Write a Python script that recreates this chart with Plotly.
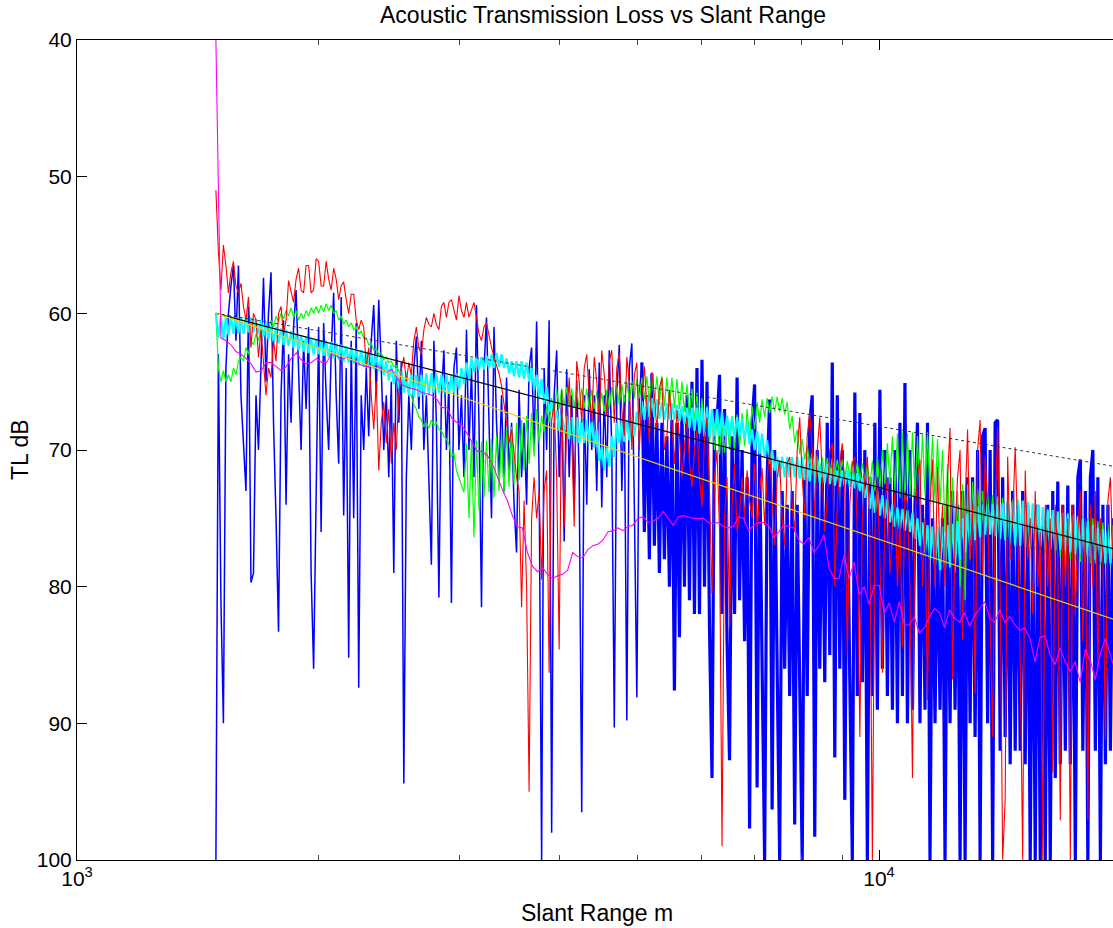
import numpy as np
import plotly.graph_objects as go

# ---------------- data (TL in dB) ----------------
range_start_m = 1490.0
range_end_m = 20000.0

blue_tl = [
    100, 63, 81, 90, 64, 60, 58, 56.5, 62, 56.5,
    66, 70, 73, 59.5, 79.7, 79, 66, 70, 63, 57.4,
    65, 60, 57, 68, 75, 83.3, 66, 60.5, 74, 63,
    68, 61, 58.3, 64, 70, 62, 67, 61, 79, 86,
    73.3, 61, 76, 60.7, 66, 70, 63, 58.5, 66, 71,
    58.8, 74.8, 64, 85.2, 62, 75, 60.7, 87.4, 66, 70,
    64, 69, 62, 59.4, 66, 59, 64, 70, 66, 72,
    65, 79, 62, 68, 63.6, 94.4, 72, 66, 70, 64,
    61.7, 67, 62, 70, 66, 72, 78.4, 62, 68, 80.8,
    66, 62.7, 70, 65, 81.2, 64, 62.5, 70, 66, 72,
    61.2, 70, 64, 72, 59.4, 68, 81.5, 64, 60.3, 68,
    75, 61, 68, 72, 66, 73, 64.7, 72, 68, 74,
    77.5, 65.6, 72, 68, 74, 64, 62.5, 70, 60.6, 72,
    100, 64, 70, 60.5, 98, 66, 62.7, 72, 66, 76.7,
    64.1, 72, 66, 74, 64.9, 72, 96.5, 66, 74, 64.1,
    70, 66, 73, 63.6, 74.2, 66, 72, 62.7, 70, 90.3,
    66, 62.3, 73, 66, 89.8, 64, 62.2, 74, 88.1, 66,
    63.6, 76, 66, 78, 64.4, 77, 68, 79, 68, 78,
    69, 80, 67.8, 87.6, 68, 83.7, 67, 80, 66, 81,
    65, 82, 64, 82, 63.4, 80, 65, 83, 94, 67,
    68, 64.5, 82, 67, 84, 92.7, 69, 82, 64.7, 81,
    70, 84, 72, 97.7, 68, 65.2, 94.7, 70, 86, 100,
    72, 66.3, 96.3, 70, 86, 100, 73, 86, 74, 88,
    73, 97.4, 74, 86, 100, 72, 88, 68, 66, 98.3,
    70, 86, 72, 87, 68, 85, 63.6, 92.5, 66, 86,
    70, 95.6, 72, 87, 100, 65.8, 88, 67.3, 87, 70,
    100, 72, 88, 68, 89, 65.6, 86, 70, 88, 72,
    89, 70, 90, 68, 88, 65.1, 90, 70, 89, 74,
    68, 90, 74, 89, 68, 100, 75, 90, 76, 89,
    75, 100, 74, 90, 73, 89, 74, 100, 73, 100,
    72, 90, 72, 91, 70, 100, 69, 68.4, 90, 70,
    100, 68, 67.8, 92, 72, 91, 74, 93, 73, 92,
    74, 92, 73, 93, 74, 100, 75, 100, 74, 100,
    75, 100, 74, 100, 73, 94, 72.3, 93, 74, 92,
    72.6, 93, 74, 100, 72, 70.7, 92, 73, 100, 72,
    70, 92, 72, 100, 74, 93, 74, 92, 75, 91, 74, 90,
]

red_tl = [
    51, 55.5, 58.3, 55, 56.5, 58.5, 57, 56.2, 58, 58.5,
    57.8, 59.5, 60.5, 58.8, 62.5, 60, 60.5, 63.2, 61.2, 63.5,
    66, 64, 64.7, 62, 63.5, 60, 59.5, 61.5, 60.5, 57.6,
    58.5, 59.2, 57.5, 56.7, 58.3, 58.5, 56.5, 56.5, 58.5, 58.3,
    56, 56.2, 58, 58, 56.2, 57.5, 58.3, 56.7, 57.5, 59,
    58, 57.7, 59, 60, 58.6, 58.6, 60.5, 61.2, 60.5, 61,
    64, 62.5, 66, 68.5, 65, 71.5, 68, 66.5, 69.5, 67,
    71, 68, 70, 66, 64.1, 63.2, 65, 63.6, 64.5, 62,
    61, 62.5, 63, 61.2, 60.3, 60.8, 61, 60, 60.8, 61.2,
    59.5, 59.2, 60.3, 59.2, 59, 59.8, 60.5, 58.7, 59.8, 60.3,
    59.2, 60.3, 59.8, 59.2, 60.3, 61.5, 62, 61, 60.7, 61.7,
    62.5, 63.2, 63.8, 64.4, 65.3, 66.5, 68, 69.5, 68.5, 70.2,
    72, 73, 81.5, 73.7, 80, 95, 75, 72, 75, 73,
    79.5, 73, 71.5, 86.3, 67.8, 66.6, 72, 84.6, 65.6, 75.6,
    68, 64.7, 69, 75.6, 63.5, 65, 68, 64, 63, 66,
    68, 63.2, 65, 68, 62.7, 64.5, 67.5, 63.5, 62.7, 68,
    64, 62.9, 67, 69, 63.2, 65, 70, 64.5, 63.6, 70,
    66, 63.9, 67, 69.5, 64.3, 66, 68.5, 65.5, 64.7, 70,
    69, 65.6, 68, 71, 67.1, 69, 72, 70, 67.6, 71,
    72.7, 70, 68.5, 72, 74.2, 69, 67.6, 73, 80.5, 72,
    70, 76, 99, 75, 72, 83, 74, 71, 76, 74.6,
    72, 75, 71.5, 73.7, 75, 71, 75.9, 73, 71.3, 75.5,
    72, 70, 74, 77, 72, 70.8, 75, 77, 71, 70.5,
    74, 76, 70, 67.6, 72, 75, 69, 67.2, 70, 75,
    70, 67.6, 72, 76, 73.5, 70, 69.5, 80, 74, 71,
    69.5, 73, 85, 74, 71, 70.5, 76, 91, 75, 72,
    70.5, 76, 100, 76, 72, 78, 86.3, 74, 72, 79,
    76, 73, 80, 75, 84.4, 73, 74, 80, 94, 75,
    72, 70.7, 80, 75, 88.3, 74, 70.7, 80, 71.2, 78,
    74, 80, 72, 68.4, 86.8, 76, 72, 70, 83.9, 74,
    68.5, 78, 74, 87.8, 70, 67.8, 79, 70.5, 74, 82,
    91, 74, 68.3, 80, 100, 95.6, 70.5, 78, 75, 69.8,
    76, 85.4, 100, 71.5, 78, 75, 82, 73, 80, 76,
    100, 74, 80, 75, 93.6, 74, 78, 97.1, 74, 80,
    75, 100, 74, 82, 76, 73, 84, 75, 97.1, 74,
    80, 73, 86, 75, 78, 91.2, 73.7, 72, 78, 76, 85, 80,
]

green_tl = [
    60, 64, 65, 64.2, 65, 64.5, 65, 64, 64.5, 63.5,
    63.2, 63.5, 62.5, 63, 62, 62.3, 61.5, 62, 61.2, 61.5,
    60.8, 61.2, 60.5, 61, 60.2, 60.6, 60, 60.4, 59.8, 60.2,
    59.6, 60.3, 59.8, 60.5, 60, 60.4, 59.8, 60.2, 59.6, 60,
    59.5, 60, 59.4, 59.9, 59.3, 59.8, 59.4, 60, 59.8, 60.5,
    60.2, 60.8, 60.5, 61, 60.7, 61.2, 61, 61.5, 61.3, 61.8,
    61.8, 62.3, 62.2, 62.7, 62.6, 63, 62.9, 63.4, 63.2, 63.6,
    63.5, 63.9, 63.8, 64.2, 64.5, 65, 65.2, 65.8, 66, 66.7,
    67, 67.6, 67.8, 68.3, 68, 68.4, 67.8, 68.2, 68, 68.5,
    68.6, 69, 69.2, 69.6, 70.5, 70.2, 71.5, 72, 72.6, 73.1,
    69.5, 75, 69.3, 76.4, 69.3, 74.4, 69.4, 73.5, 69.3, 73.1,
    69.2, 73.5, 69, 73, 68.8, 73.2, 68.5, 72.7, 68.3, 72.5,
    68, 72.2, 67.8, 71.5, 67.5, 71, 67.3, 70.5, 67, 69.5,
    67.5, 68.7, 66.8, 68, 66.2, 67.3, 65.6, 67, 65.5, 66.8,
    65.4, 66.8, 65.5, 66.9, 65.6, 67, 65.5, 66.9, 65.5, 67,
    65.6, 67, 65.7, 67.2, 65.8, 67.2, 65.6, 67, 65.4, 66.8,
    65.3, 66.7, 65.2, 66.5, 65, 66.4, 65, 66.2, 64.8, 66.2,
    64.7, 66.3, 64.6, 66.5, 64.5, 66.6, 64.6, 66.7, 64.6, 66.8,
    64.7, 66.8, 64.7, 66.9, 64.8, 67, 65, 67.2, 65.2, 67.5,
    65.5, 68, 65.8, 68.5, 66.2, 69, 66.8, 69.5, 67.3, 70,
    67.6, 70.3, 67.8, 70.2, 67.6, 70, 67.5, 70, 67.4, 69.8,
    67.3, 69.7, 67, 69.3, 66.8, 68.5, 66.5, 68, 66.3, 67.6,
    66.2, 67.3, 66.1, 67.2, 66.1, 67.2, 66.2, 67.4, 66.5, 68.5,
    67.5, 69.5, 68.5, 70.3, 69.2, 70.7, 69.7, 71, 70.2, 71.5,
    70.4, 71.6, 70.5, 71.7, 70.6, 71.8, 70.6, 71.8, 70.7, 71.9,
    70.7, 72, 70.8, 72, 70.8, 72.1, 70.9, 72.2, 71, 72.3,
    71, 72.6, 70.8, 73, 70.5, 72.8, 70, 72.5, 69.5, 72.5,
    69, 73, 68.8, 73.5, 68.7, 73.7, 68.8, 73.5, 68.7, 73.4,
    69, 73.5, 68.8, 73.3, 68.7, 73.2, 69, 73.7, 69.2, 74,
    70, 76, 71, 78, 72, 79, 73, 80, 72.5, 81,
    72.5, 78, 72.3, 76, 72.8, 75.5, 73, 75.5, 73.2, 75.8,
    73.3, 76, 73.4, 76.2, 73.5, 76.4, 73.5, 76.5, 73.6, 76.7,
    73.6, 76.8, 73.8, 77, 73.9, 77.2, 74, 77.3, 74, 77.4,
    74.2, 77.6, 74.3, 77.6, 74.4, 77.8, 74.5, 77.9, 74.6, 78,
    74.6, 78, 74.7, 78.1, 74.8, 78.2, 74.9, 78.2, 75, 78.3,
    75, 78.3, 75.2, 78.4, 75.3, 78.4, 75.4, 78.5, 75.5, 78.6, 75.6, 78.6,
]

cyan_tl = [
    60, 61.8, 60.2, 61.9, 60.3, 61.6, 60.2, 61.5, 60.3, 61.5,
    60.3, 61.5, 60.2, 61.4, 60.3, 61.4, 60.4, 61.5, 60.5, 61.7,
    60.7, 61.9, 60.9, 62.1, 61, 62.2, 61.1, 62.3, 61.2, 62.4,
    61.3, 62.5, 61.5, 62.7, 61.6, 62.8, 61.7, 62.9, 61.8, 63,
    61.9, 63, 62, 63.1, 62, 63.2, 62.1, 63.3, 62.2, 63.4,
    62.3, 63.5, 62.4, 63.6, 62.5, 63.7, 62.6, 63.8, 62.7, 63.9,
    62.8, 64, 62.9, 64.1, 63, 64.2, 63.2, 64.5, 63.5, 64.9,
    63.8, 65.2, 64, 65.5, 64.2, 65.8, 64.3, 66, 64.4, 66.1,
    64.5, 66.1, 64.5, 66, 64.4, 65.9, 64.4, 65.8, 64.4, 65.8,
    64.5, 65.8, 64.5, 65.9, 64.5, 65.8, 64.4, 65.6, 64, 65.2,
    63.6, 64.8, 63.3, 64.3, 63.2, 64.1, 63.2, 64.1, 63.1, 64,
    63, 64, 62.9, 63.9, 63, 64, 63.3, 64.4, 63.5, 64.6,
    63.5, 64.7, 63.5, 64.8, 63.6, 65, 64, 65.6, 64.5, 66.2,
    64.8, 66.6, 65.4, 67.2, 66.4, 68, 67.1, 68.5, 67.3, 68.8,
    67.5, 69.2, 67.6, 69.4, 67.6, 69.5, 67.7, 69.5, 67.8, 69.5,
    67.9, 69.8, 68.5, 70.8, 69.8, 71.5, 69.8, 71.2, 69, 70.5,
    68, 69.5, 67.8, 69.4, 67.8, 69.3, 67.6, 69, 67.2, 68.6,
    66.4, 67.8, 66.1, 67.6, 66.2, 67.6, 66.3, 67.7, 66.5, 67.8,
    66.6, 67.8, 66.6, 67.8, 66.7, 67.9, 66.8, 68.1, 66.9, 68.4,
    66.9, 68.6, 66.9, 68.8, 66.9, 69, 66.9, 69, 67, 69,
    67, 69, 67.2, 69, 67.5, 69, 67.6, 69, 67.6, 69,
    67.7, 69.2, 68, 69.6, 68.5, 70, 68.6, 70.3, 68.8, 70.5,
    69.3, 71, 70, 71.5, 70.5, 72, 70.5, 72, 70.5, 72,
    70.5, 72, 70.5, 72.1, 70.5, 72.2, 70.5, 72.3, 70.6, 72.4,
    70.7, 72.4, 70.8, 72.4, 71, 72.5, 71.3, 72.6, 71.5, 72.7,
    71.5, 72.7, 71.5, 72.7, 71.6, 72.8, 71.7, 73, 72, 73.5,
    72.5, 74.3, 72.8, 74.6, 73, 74.8, 73.3, 75, 73.6, 75.3,
    74, 75.6, 74.2, 75.8, 74.3, 75.9, 74.4, 76, 74.6, 76.5,
    75, 77, 75.3, 77.5, 75.5, 78, 75.6, 78.5, 75.6, 78.8,
    75.6, 78.8, 75.5, 78.6, 75.4, 78.4, 75.2, 78, 75, 77.5,
    74.6, 77, 74.3, 76.6, 74.1, 76.4, 74, 76.2, 74, 76.2,
    74, 76.3, 74, 76.5, 73.9, 76.6, 73.8, 76.8, 73.8, 77,
    73.7, 77, 73.7, 77.1, 73.8, 77.1, 73.9, 77.1, 74, 77.1,
    74.2, 77.2, 74.4, 77.3, 74.4, 77.3, 74.5, 77.3, 74.6, 77.4,
    74.7, 77.5, 74.8, 77.6, 74.9, 77.6, 75, 77.7, 75.2, 77.8,
    75.5, 78, 75.7, 78.2, 75.8, 78.3, 75.9, 78.3, 76, 78.4, 76.1, 78.5,
]

magenta_tl = [
    40, 61.8, 62.0, 62.3, 62.8, 63.0, 63.3, 63.7, 64.3, 64.2,
    63.6, 63.6, 63.9, 64.2, 63.9, 63.3, 62.9, 63.4, 63.7, 63.6,
    63.3, 63.6, 63.6, 63.0, 63.1, 63.4, 63.2, 63.4, 63.6, 63.8,
    63.9, 63.9, 63.8, 64.1, 64.3, 64.1, 64.7, 65.2, 65.4, 65.5,
    65.6, 65.8, 65.9, 66.0, 66.3, 66.9, 66.9, 67.7, 68.0, 68.2,
    68.8, 69.5, 70.1, 70.1, 70.4, 71.0, 72.0, 72.9, 73.7, 74.8,
    75.6, 75.7, 77.5, 78.5, 78.9, 78.6, 79.1, 79.4, 79.2, 79.1,
    78.8, 77.5, 77.8, 77.9, 77.3, 77.0, 76.9, 76.6, 76.0, 75.9,
    75.7, 75.9, 75.6, 75.5, 75.0, 74.9, 75.3, 75.2, 75.0, 74.5,
    75.0, 75.5, 74.9, 74.8, 74.9, 75.0, 75.0, 75.0, 75.3, 75.4,
    75.3, 75.6, 75.7, 75.6, 74.9, 75.0, 75.9, 75.5, 75.3, 75.3,
    75.5, 76.4, 76.0, 75.5, 75.6, 75.7, 76.6, 76.9, 76.4, 77.5,
    77.0, 76.2, 78.6, 79.4, 79.4, 77.7, 79.4, 78.2, 80.6, 80.0,
    81.3, 79.9, 79.9, 81.9, 81.2, 82.6, 81.1, 82.8, 82.8, 82.2,
    83.4, 83.0, 82.2, 81.6, 81.9, 83.0, 81.7, 82.3, 82.6, 81.9,
    82.9, 82.1, 81.6, 81.1, 82.3, 82.6, 81.7, 82.6, 82.2, 82.8,
    83.2, 83.0, 83.8, 85.5, 83.7, 83.6, 85.0, 85.7, 84.5, 85.5,
    86.2, 85.5, 87.0, 84.6, 85.4, 86.8, 84.9, 83.8, 85.0, 86.2, 85.4,
]

# reference spreading-loss lines (end points)
ref_range = [range_start_m, range_end_m]
yellow_tl = [60.0, 82.56]    # spherical
black_tl = [60.0, 77.36]     # practical
dotted_tl = [60.0, 71.28]    # cylindrical

x_ticks = [1000, 10000]
x_tick_text = ["10<sup>3</sup>", "10<sup>4</sup>"]
x_minor = [2000, 3000, 4000, 5000, 6000, 7000, 8000, 9000, 20000]
y_ticks = [40, 50, 60, 70, 80, 90, 100]

BLUE_SPLIT = 170   # index where the blue trace becomes a dense band


def grid(values):
    return np.geomspace(range_start_m, range_end_m, len(values))


FONT = "Liberation Sans, Arial, sans-serif"

fig = go.Figure()

bx = grid(blue_tl)
fig.add_trace(go.Scatter(x=bx[:BLUE_SPLIT + 1], y=blue_tl[:BLUE_SPLIT + 1], mode="lines",
                         line=dict(color="#0000FF", width=1.5), hoverinfo="skip"))
fig.add_trace(go.Scatter(x=bx[BLUE_SPLIT:], y=blue_tl[BLUE_SPLIT:], mode="lines",
                         line=dict(color="#0000FF", width=3.2), hoverinfo="skip"))

series = [
    (green_tl, "#00FF00", 1.2),
    (cyan_tl, "#00FFFF", 2.2),
    (red_tl, "#FF0000", 1.1),
    (magenta_tl, "#FF00FF", 1.1),
]
for vals, col, w in series:
    fig.add_trace(go.Scatter(x=grid(vals), y=vals, mode="lines",
                             line=dict(color=col, width=w), hoverinfo="skip"))

fig.add_trace(go.Scatter(x=ref_range, y=dotted_tl, mode="lines",
                         line=dict(color="#333333", width=1, dash="dot")))
fig.add_trace(go.Scatter(x=ref_range, y=black_tl, mode="lines",
                         line=dict(color="#000000", width=1.2)))
fig.add_trace(go.Scatter(x=ref_range, y=yellow_tl, mode="lines",
                         line=dict(color="#F2D200", width=1.2)))

W, H = 1113, 928
L, R, T, B = 77, 0, 40, 68
plot_w = W - L - R
decade_px = 802.0
x_hi = 3 + plot_w / decade_px

fig.update_layout(
    width=W, height=H,
    margin=dict(l=L, r=R, t=T, b=B, pad=0),
    paper_bgcolor="white", plot_bgcolor="white",
    showlegend=False,
    font=dict(family=FONT, size=21, color="black"),
    xaxis=dict(
        type="log", range=[3, x_hi],
        tickmode="array", tickvals=x_ticks, ticktext=x_tick_text,
        ticks="inside", ticklen=10, tickwidth=1, tickcolor="black",
        showline=True, linecolor="black", linewidth=1, mirror="ticks",
        showgrid=False, zeroline=False,
        minor=dict(tickmode="array", tickvals=x_minor, ticks="inside",
                   ticklen=5, tickcolor="#444444", showgrid=False),
        tickfont=dict(family=FONT, size=21),
    ),
    yaxis=dict(
        range=[100, 40], tickmode="array", tickvals=y_ticks,
        ticks="inside", ticklen=10, tickwidth=1, tickcolor="black",
        showline=True, linecolor="black", linewidth=1, mirror=False,
        showgrid=False, zeroline=False,
        tickfont=dict(family=FONT, size=21),
    ),
    annotations=[
        dict(text="Acoustic Transmission Loss vs Slant Range", xref="paper", yref="paper",
             x=(603 - L) / plot_w, y=(860 - 15) / 820.0, xanchor="center", yanchor="middle",
             showarrow=False, font=dict(family=FONT, size=23)),
        dict(text="Slant Range m", xref="paper", yref="paper",
             x=(597 - L) / plot_w, y=(860 - 913) / 820.0, xanchor="center", yanchor="middle",
             showarrow=False, font=dict(family=FONT, size=23)),
        dict(text="TL dB", xref="paper", yref="paper", textangle=-90,
             x=(20 - L) / plot_w, y=0.5, xanchor="center", yanchor="middle",
             showarrow=False, font=dict(family=FONT, size=23)),
    ],
)

fig.write_html("out.html", config={"displayModeBar": False},
               post_script="document.body.style.margin='0px';document.body.style.overflow='hidden';")
